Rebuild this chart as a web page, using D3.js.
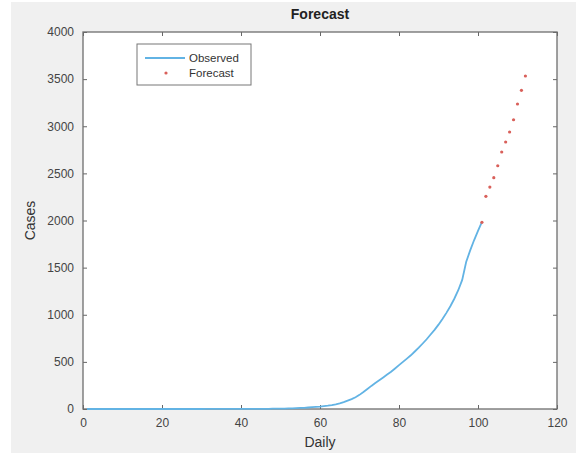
<!DOCTYPE html>
<html>
<head>
<meta charset="utf-8">
<script src="https://cdn.jsdelivr.net/npm/d3@7"></script>
<style>
  body { margin: 0; background: #fff; }
  text { font-family: "Liberation Sans", Arial, sans-serif; }
</style>
</head>
<body>
<div class="chart"></div>
<script>
// observed cases, day 1..101
var observedCases = [
  0,0,0,0,0,0,0,0,0,0, 0,0,0,0,0,0,0,0,0,0, 0,0,0,0,0,0,0,0,0,0,
  1,1,1,1,1,1,1,1,1,1, 1,1,1,1,1,
  2,2,3,3,4,5,6,
  7,9,11,13,16,19,22,25,
  30,35,42,50,60,72,88,105,125,150,
  180,212,245,275,305,335,365,395,430,465,
  500,535,570,610,650,695,740,790,840,895,
  955,1020,1090,1170,1260,1370,1560,1680,1790,1890,1985
];
var forecastDays = [101,102,103,104,105,106,107,108,109,110,111,112];
var forecastCases = [1981,2257,2355,2454,2581,2727,2833,2939,3069,3236,3381,3533];
var xTicks = [0,20,40,60,80,100,120];
var yTicks = [0,500,1000,1500,2000,2500,3000,3500,4000];

var svgWidth = 579;
var svgHeight = 454;
var margin = { top: 32, right: 22, bottom: 45, left: 83 };
var width = svgWidth - margin.left - margin.right;
var height = svgHeight - margin.top - margin.bottom;

var svg = d3.select(".chart")
  .append("svg")
  .attr("width", svgWidth)
  .attr("height", svgHeight);

// figure background
svg.append("rect")
  .attr("x", 11).attr("y", 2)
  .attr("width", svgWidth - 14).attr("height", svgHeight - 3)
  .attr("fill", "#f0f0f0");

var chartGroup = svg.append("g")
  .attr("transform", `translate(${margin.left}, ${margin.top})`);

chartGroup.append("rect")
  .attr("width", width).attr("height", height)
  .attr("fill", "#fff");

var xScale = d3.scaleLinear().domain([0, 120]).range([0, width]);
var yScale = d3.scaleLinear().domain([0, 4000]).range([height, 0]);

// axes with inward ticks, box style
function styleAxis(g) {
  g.select(".domain").remove();
  g.selectAll("line").attr("stroke", "#666");
  g.selectAll("text").attr("fill", "#444").style("font-size", "12px");
}

chartGroup.append("g")
  .attr("transform", `translate(0, ${height})`)
  .call(d3.axisBottom(xScale).tickValues(xTicks).tickSizeInner(-4).tickPadding(9).tickFormat(d3.format("d")))
  .call(styleAxis);

chartGroup.append("g")
  .call(d3.axisTop(xScale).tickValues(xTicks).tickSizeInner(-4).tickFormat(""))
  .call(styleAxis);

chartGroup.append("g")
  .call(d3.axisLeft(yScale).tickValues(yTicks).tickSizeInner(-4).tickPadding(9).tickFormat(d3.format("d")))
  .call(styleAxis);

chartGroup.append("g")
  .attr("transform", `translate(${width}, 0)`)
  .call(d3.axisRight(yScale).tickValues(yTicks).tickSizeInner(-4).tickFormat(""))
  .call(styleAxis);

chartGroup.append("rect")
  .attr("width", width).attr("height", height)
  .attr("fill", "none")
  .attr("stroke", "#6e6e6e")
  .attr("stroke-width", 1.3);

// observed line
var line = d3.line()
  .x((d, i) => xScale(i + 1))
  .y(d => yScale(d));

chartGroup.append("path")
  .datum(observedCases)
  .attr("fill", "none")
  .attr("stroke", "#62b3e4")
  .attr("stroke-width", 1.8)
  .attr("d", line);

// forecast dots
chartGroup.selectAll(".fc")
  .data(forecastCases)
  .enter()
  .append("circle")
  .attr("class", "fc")
  .attr("cx", (d, i) => xScale(forecastDays[i]))
  .attr("cy", d => yScale(d))
  .attr("r", 1.6)
  .attr("fill", "#d9605a");

// legend
var legend = svg.append("g");
legend.append("rect")
  .attr("x", 137).attr("y", 44)
  .attr("width", 114).attr("height", 41)
  .attr("fill", "#fff")
  .attr("stroke", "#777")
  .attr("stroke-width", 1);
legend.append("line")
  .attr("x1", 145).attr("x2", 185)
  .attr("y1", 58).attr("y2", 58)
  .attr("stroke", "#62b3e4")
  .attr("stroke-width", 1.8);
legend.append("circle")
  .attr("cx", 166).attr("cy", 73).attr("r", 1.6)
  .attr("fill", "#d9605a");
legend.append("text")
  .attr("x", 189).attr("y", 62)
  .attr("fill", "#333").style("font-size", "11.5px")
  .text("Observed");
legend.append("text")
  .attr("x", 189).attr("y", 77)
  .attr("fill", "#333").style("font-size", "11.5px")
  .text("Forecast");

// titles
svg.append("text")
  .attr("x", margin.left + width / 2).attr("y", 19)
  .attr("text-anchor", "middle")
  .attr("fill", "#222")
  .style("font-size", "14px").style("font-weight", "bold")
  .text("Forecast");

svg.append("text")
  .attr("x", margin.left + width / 2).attr("y", 447)
  .attr("text-anchor", "middle")
  .attr("fill", "#333").style("font-size", "14px")
  .text("Daily");

svg.append("text")
  .attr("transform", `translate(35, ${margin.top + height / 2}) rotate(-90)`)
  .attr("text-anchor", "middle")
  .attr("fill", "#333").style("font-size", "14px")
  .text("Cases");
</script>
</body>
</html>
